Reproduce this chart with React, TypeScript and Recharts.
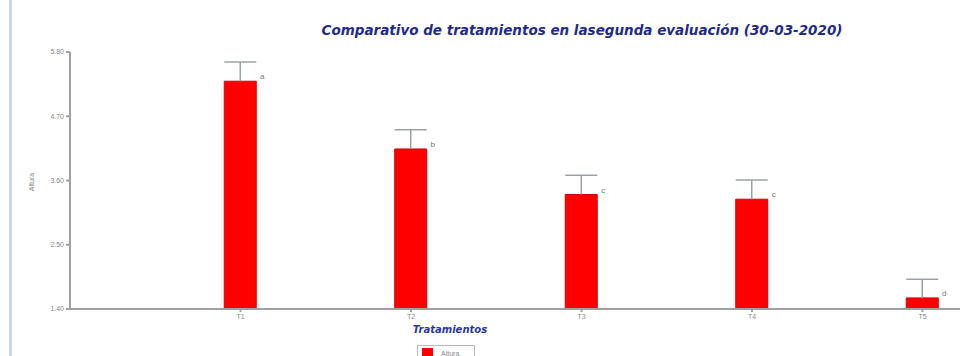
import { ComposedChart, Bar, XAxis, YAxis, LabelList } from "recharts";

const TREATMENTS = ["T1", "T2", "T3", "T4", "T5"];
const MEANS = [5.3, 4.14, 3.36, 3.28, 1.59];
const ERRORS = [0.33, 0.33, 0.33, 0.33, 0.32];
const LETTERS = ["a", "b", "c", "c", "d"];
const Y_TICKS = [1.4, 2.5, 3.6, 4.7, 5.8];

const TITLE = "Comparativo de tratamientos en lasegunda evaluación (30-03-2020)";
const X_LABEL = "Tratamientos";
const Y_LABEL = "Altura";

const data = TREATMENTS.map((t, i) => ({
  pos: i + 1,
  name: t,
  mean: MEANS[i],
  err: ERRORS[i],
  letter: LETTERS[i],
}));

const FONT = "'Liberation Sans', Arial, sans-serif";
const TITLE_FONT = "'DejaVu Sans', Verdana, sans-serif";

// whisker drawn on top of the stacked (invisible) error segment
const Whisker = (props: any) => {
  const { x, y, width, height } = props;
  const cx = x + width / 2;
  return (
    <g stroke="#9aa3a3" strokeWidth={1.5}>
      <line x1={cx} y1={y + height} x2={cx} y2={y} />
      <line x1={x} y1={y} x2={x + width} y2={y} />
    </g>
  );
};

const Letter = (props: any) => {
  const { x, y, width, value } = props;
  return (
    <text x={x + width + 6} y={y - 2} fontSize={8} fill="#777" fontFamily={FONT} textAnchor="middle">
      {value}
    </text>
  );
};

export default function App() {
  return (
    <div style={{ position: "absolute", left: 0, top: 0, width: 968, height: 356, background: "#fff", overflow: "hidden" }}>
      <div style={{ position: "absolute", left: 9, top: 0, width: 3, height: 356, background: "#c9d6ee" }} />
      <ComposedChart
        width={968}
        height={356}
        data={data}
        margin={{ top: 52, right: 8, bottom: 27, left: 30 }}
      >
        <text x={582} y={35} textAnchor="middle" fontFamily={TITLE_FONT} fontSize={13.5} fontWeight="bold" fontStyle="italic" fill="#1f2a8a">
          {TITLE}
        </text>
        <text x={450} y={333} textAnchor="middle" fontFamily={TITLE_FONT} fontSize={10} fontWeight="bold" fontStyle="italic" fill="#2a36a0">
          {X_LABEL}
        </text>
        <text x={34} y={182} textAnchor="middle" transform="rotate(-90 34 182)" fontFamily={FONT} fontSize={7} fill="#888">
          {Y_LABEL}
        </text>
        <XAxis
          dataKey="pos"
          type="number"
          domain={[0, 5.22]}
          ticks={[1, 2, 3, 4, 5]}
          tickFormatter={(v: number) => TREATMENTS[v - 1]}
          height={20}
          stroke="#a0a0a0"
          strokeWidth={2}
          tickSize={3}
          tick={{ fill: "#888", fontSize: 7, fontFamily: FONT }}
        />
        <YAxis
          type="number"
          domain={[1.4, 5.8]}
          ticks={Y_TICKS}
          allowDataOverflow
          width={40}
          stroke="#a0a0a0"
          strokeWidth={2}
          tickSize={4}
          tickFormatter={(v: number) => v.toFixed(2)}
          tick={{ fill: "#888", fontSize: 7, fontFamily: FONT }}
        />
        <Bar dataKey="mean" stackId="s" barSize={32} fill="#ff0000" stroke="#d40000" isAnimationActive={false}>
          <LabelList dataKey="letter" content={Letter} />
        </Bar>
        <Bar dataKey="err" stackId="s" barSize={32} shape={Whisker} isAnimationActive={false} />
      </ComposedChart>
      <div
        style={{
          position: "absolute",
          left: 417,
          top: 345,
          width: 56,
          height: 14,
          border: "1px solid #bbb",
          background: "#fff",
          display: "flex",
          alignItems: "center",
          fontFamily: FONT,
          fontSize: 7,
          color: "#888",
        }}
      >
        <span style={{ display: "inline-block", width: 11, height: 11, background: "#ff0000", margin: "0 8px 0 4px" }} />
        {Y_LABEL}
      </div>
    </div>
  );
}
